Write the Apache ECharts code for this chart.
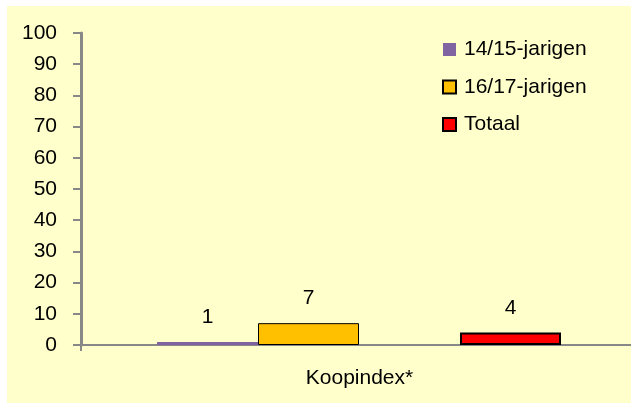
<!DOCTYPE html>
<html>
<head>
<meta charset="utf-8">
<script src="https://cdn.jsdelivr.net/npm/echarts@6/dist/echarts.min.js"></script>
<style>
html,body{margin:0;padding:0;background:#ffffff;}
#chart{width:631px;height:403px;}
</style>
</head>
<body>
<div id="chart"></div>
<script>
var categories = ['Koopindex*'];
var seriesNames = ['14/15-jarigen', '16/17-jarigen', 'Totaal'];
var values1415 = [1];
var values1617 = [7];
var valuesTotaal = [4];
var yMin = 0, yMax = 100, yInterval = 10;

var font = 'Liberation Sans, Arial, sans-serif';
var chart = echarts.init(document.getElementById('chart'), null, {renderer: 'canvas'});
var labelCfg = {show: true, position: 'top', distance: 14, color: '#000', fontSize: 21, fontFamily: font};
chart.setOption({
  animation: false,
  backgroundColor: 'transparent',
  grid: {left: 81, right: 0, top: 33, bottom: 58, containLabel: false},
  legend: {
    data: seriesNames,
    orient: 'vertical', left: 442, top: 39, padding: 0,
    itemWidth: 13, itemHeight: 13, itemGap: 16.5,
    textStyle: {fontSize: 21, fontFamily: font, color: '#000', padding: [0,0,0,3]},
    icon: 'rect'
  },
  xAxis: {
    type: 'category', data: categories,
    axisLine: {lineStyle: {color: '#888888', width: 2}},
    axisTick: {show: false},
    axisLabel: {fontSize: 21, fontFamily: font, color: '#000', margin: 23, padding: [0,0,0,7]}
  },
  yAxis: {
    type: 'value', min: yMin, max: yMax, interval: yInterval,
    axisLine: {show: true, lineStyle: {color: '#888888', width: 3}},
    axisTick: {show: true, length: 8, lineStyle: {color: '#888888', width: 2}},
    splitLine: {show: false},
    axisLabel: {fontSize: 21, fontFamily: font, color: '#000', margin: 24}
  },
  series: [
    {name: '', type: 'bar', data: ['-'], barWidth: 6, barGap: '0%'},
    {name: seriesNames[0], type: 'bar', data: values1415, barWidth: 101, barGap: '0%',
     itemStyle: {color: '#8064A2', borderColor: '#604A7B', borderWidth: 0}, label: labelCfg},
    {name: seriesNames[1], type: 'bar', data: values1617, barWidth: 101, barGap: '0%',
     itemStyle: {color: '#FFC000', borderColor: '#000', borderWidth: 1}, label: labelCfg},
    {name: '', type: 'bar', data: ['-'], barWidth: 101, barGap: '0%'},
    {name: seriesNames[2], type: 'bar', data: valuesTotaal, barWidth: 101, barGap: '0%',
     itemStyle: {color: '#FF0000', borderColor: '#000', borderWidth: 2}, label: labelCfg}
  ]
});
var p0 = chart.convertToPixel({gridIndex: 0}, [0, yMin]);
var gridRect = chart.getModel().getComponent('grid', 0).coordinateSystem.getRect();
chart.setOption({graphic: [
  {type: 'rect', z: -10, shape: {x: 7, y: 6, width: 624, height: 397}, style: {fill: '#FFFFCC'}},
  {type: 'line', z: 5, shape: {x1: gridRect.x, y1: p0[1], x2: gridRect.x, y2: p0[1] + 6},
   style: {stroke: '#888888', lineWidth: 2}}
]});
</script>
</body>
</html>
